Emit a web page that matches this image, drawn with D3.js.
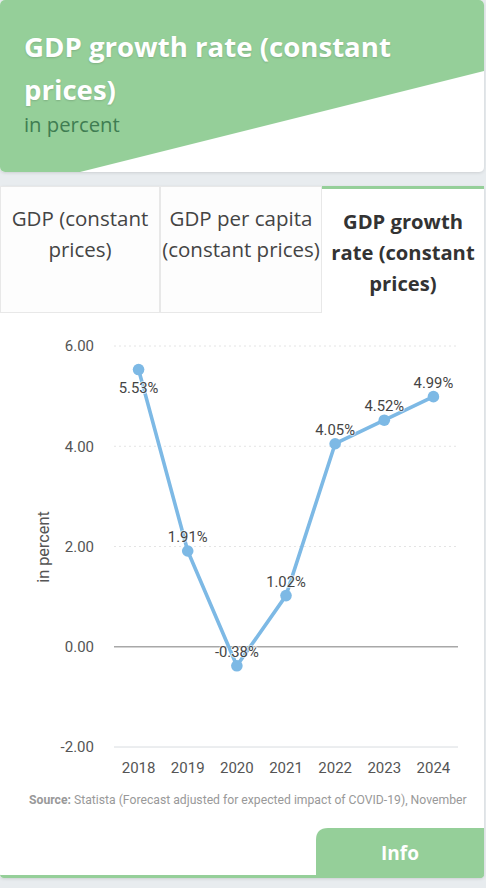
<!DOCTYPE html>
<html><head><meta charset="utf-8">
<script src="https://cdn.jsdelivr.net/npm/d3@7"></script>
<style>
html,body{margin:0;padding:0;background:#e8ecef;width:486px;height:888px;overflow:hidden;}
svg{display:block;}
</style></head>
<body>
<svg id="c" width="486" height="888"></svg>
<script>
const titleLines = ["GDP growth rate (constant", "prices)"];
const subtitle = "in percent";
const tabs = [["GDP (constant", "prices)"], ["GDP per capita", "(constant prices)"], ["GDP growth", "rate (constant", "prices)"]];
const years = ["2018", "2019", "2020", "2021", "2022", "2023", "2024"];
const growth = [5.53, 1.91, -0.38, 1.02, 4.05, 4.52, 4.99];
const yTicks = [-2, 0, 2, 4, 6];
const yTitle = "in percent";
const sourceText = "Statista (Forecast adjusted for expected impact of COVID-19), November";

const fmt = v => d3.format(".2f")(v).replace("\u2212","-");
const svg = d3.select("#c");
const green = "#95cf99";
const defs = svg.append("defs");
const f = defs.append("filter").attr("id","sh").attr("x","-5%").attr("y","-5%").attr("width","110%").attr("height","115%");
f.append("feDropShadow").attr("dx",0).attr("dy",1).attr("stdDeviation",1.5).attr("flood-color","#000").attr("flood-opacity",0.12);

// Header card
svg.append("rect").attr("x",0).attr("y",0).attr("width",484).attr("height",172).attr("rx",5).attr("fill","#fff").attr("filter","url(#sh)");
defs.append("clipPath").attr("id","hc").append("rect").attr("x",0).attr("y",0).attr("width",484).attr("height",172).attr("rx",5);
svg.append("path").attr("clip-path","url(#hc)").attr("d","M0,0 L484,0 L484,71 L80,172 L0,172 Z").attr("fill",green);
const ht = svg.append("text").attr("font-family","'Open Sans'").attr("font-weight",700).attr("font-size",27.6).attr("fill","#fff")
  .style("text-shadow","0 1px 2px rgba(0,0,0,0.15)");
titleLines.forEach((l,i)=>ht.append("tspan").attr("x",24).attr("y",57+i*43).text(l));
svg.append("text").attr("x",24).attr("y",132).attr("font-family","'Open Sans'").attr("font-size",20.3).attr("fill","#3f7d52").text(subtitle);

// Main card
svg.append("rect").attr("x",0).attr("y",186).attr("width",484).attr("height",692).attr("rx",4).attr("fill","#fff").attr("filter","url(#sh)");
const tabX = [0,160,322,484];
tabs.forEach((t,i)=>{
  const active = i===2;
  if(!active){
    svg.append("rect").attr("x",tabX[i]+0.5).attr("y",186.5).attr("width",tabX[i+1]-tabX[i]-1).attr("height",126).attr("fill","#fdfdfd").attr("stroke","#e8e8e8");
  } else {
    svg.append("rect").attr("x",tabX[i]).attr("y",186).attr("width",tabX[i+1]-tabX[i]).attr("height",3).attr("fill",green);
  }
  const cx=(tabX[i]+tabX[i+1])/2;
  const tt = svg.append("text").attr("text-anchor","middle").attr("font-family","'Open Sans'").attr("font-size",active?20.2:20.5)
    .attr("font-weight",active?700:400).attr("fill",active?"#333":"#444");
  t.forEach((l,j)=>tt.append("tspan").attr("x",cx).attr("y",(active?229:226)+j*31).text(l));
});

// Chart
const x = d3.scaleBand().domain(years).range([114,458]);
const y = d3.scaleLinear().domain([-2,6]).range([747,346]);
const g = svg.append("g");
yTicks.forEach(v=>{
  const solid = v<=0;
  g.append("line").attr("x1",114).attr("x2",458).attr("y1",y(v)).attr("y2",y(v))
    .attr("stroke",v===0?"#a8a8a8":(v===-2?"#d8dce0":"#e4e4e4")).attr("stroke-width",v===0?1.5:1)
    .attr("stroke-dasharray",solid?null:"2,3");
});
const yAxis = d3.axisLeft(y).tickValues(yTicks).tickFormat(fmt).tickSize(0).tickPadding(0);
const ya = g.append("g").attr("transform","translate(94,0)").call(yAxis);
ya.select(".domain").remove();
ya.selectAll("text").attr("font-family","Roboto").attr("font-size",15).attr("fill","#555");
const xAxis = d3.axisBottom(x).tickSize(0).tickPadding(0);
const xa = g.append("g").attr("transform","translate(0,762)").call(xAxis);
xa.select(".domain").remove();
xa.selectAll("text").attr("font-family","Roboto").attr("font-size",15).attr("fill","#555").attr("dy","0.71em");
g.append("text").attr("transform","translate(49,547) rotate(-90)").attr("text-anchor","middle")
  .attr("font-family","Roboto").attr("font-size",16.3).attr("fill","#555").text(yTitle);

const cx = d=>x(d)+x.bandwidth()/2;
const pts = years.map((yr,i)=>({yr, v:growth[i]}));
g.append("path").datum(pts).attr("fill","none").attr("stroke","#7db9e5").attr("stroke-width",3.6)
  .attr("stroke-linejoin","round").attr("d",d3.line().x(d=>cx(d.yr)).y(d=>y(d.v)));
g.selectAll("circle.p").data(pts).join("circle").attr("cx",d=>cx(d.yr)).attr("cy",d=>y(d.v)).attr("r",5.8).attr("fill","#7db9e5");
g.selectAll("text.lbl").data(pts).join("text").attr("class","lbl")
  .attr("x",d=>cx(d.yr)).attr("y",(d,i)=>i===0? y(d.v)+23 : y(d.v)-9)
  .attr("text-anchor","middle").attr("font-family","Roboto").attr("font-size",14.8).attr("fill","#444")
  .style("paint-order","stroke").attr("stroke","#fff").attr("stroke-width",2).attr("stroke-opacity",0.6)
  .text(d=>fmt(d.v)+"%");

// source
const st = svg.append("text").attr("x",29).attr("y",804).attr("font-family","Roboto").attr("font-size",12.2).attr("fill","#999");
st.append("tspan").attr("font-weight",700).text("Source: ");
st.append("tspan").text(sourceText);

// Info button & bottom bar
svg.append("path").attr("d","M316,876 L316,840 Q316,828 328,828 L484,828 L484,874 Q484,878 480,878 Z").attr("fill",green);
svg.append("path").attr("d","M0,875 L484,875 L484,874 Q484,878 480,878 L4,878 Q0,878 0,874 Z").attr("fill",green);
svg.append("text").attr("x",400).attr("y",860).attr("text-anchor","middle").attr("font-family","'Open Sans'").attr("font-weight",700)
  .attr("font-size",19).attr("fill","#fff").text("Info");
</script>
</body></html>
